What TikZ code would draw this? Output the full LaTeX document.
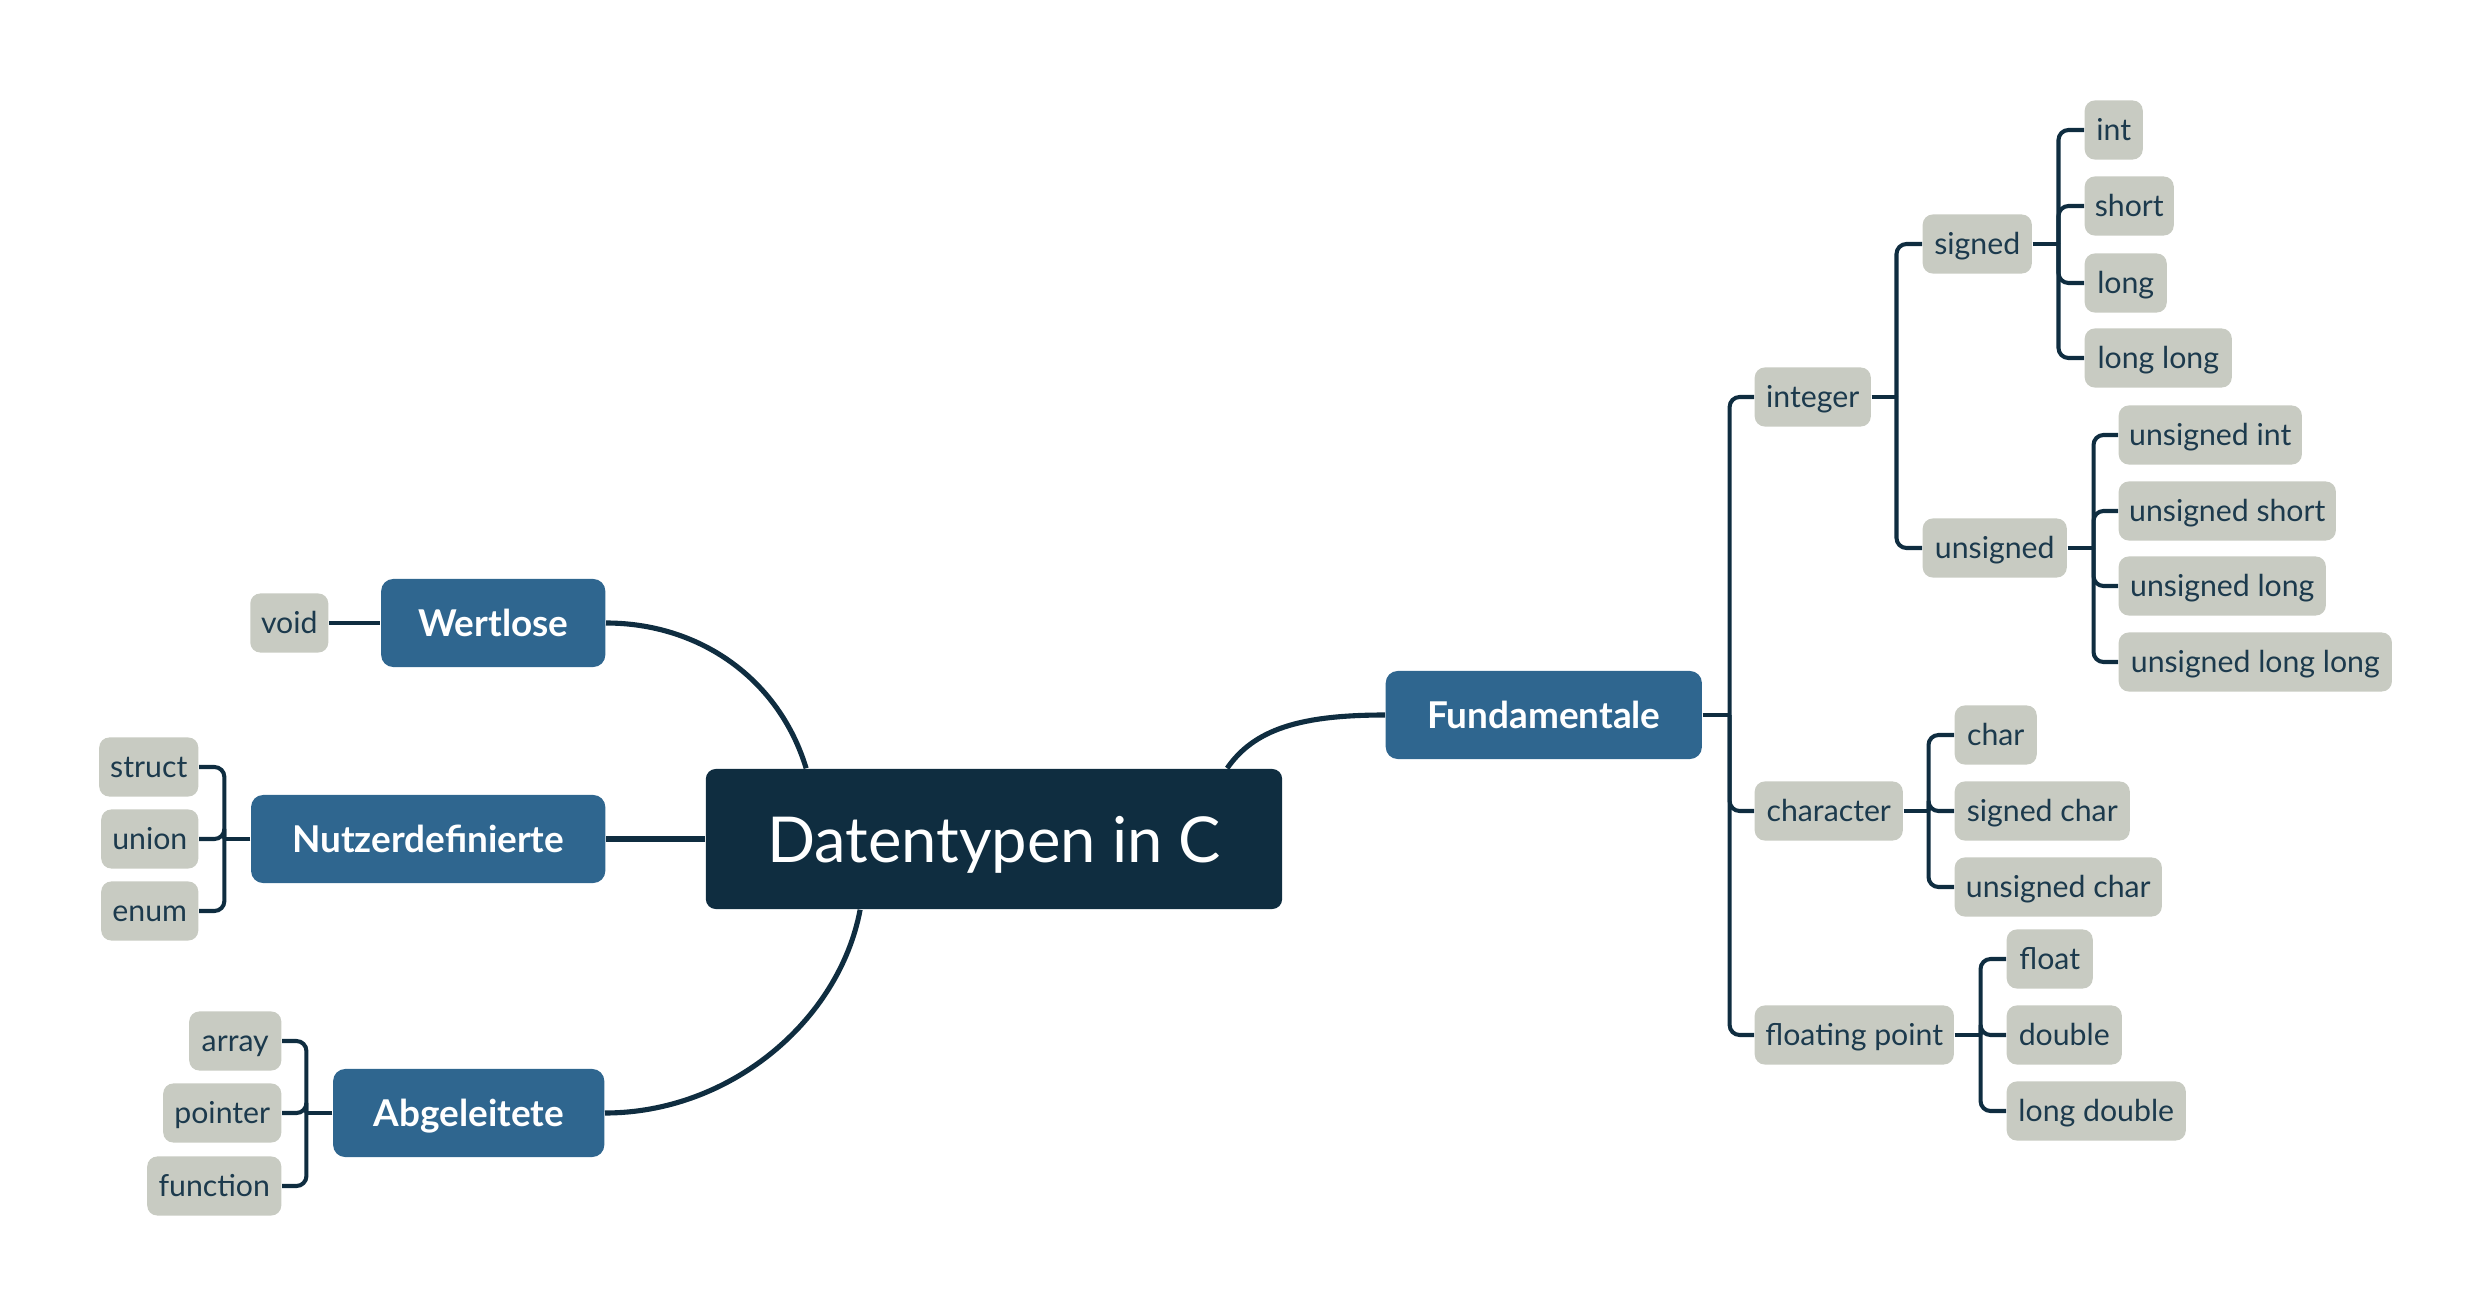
\documentclass[tikz,border=0pt]{standalone}
\usepackage{fontspec}
\setmainfont{Lato}
\usetikzlibrary{calc}
\definecolor{navy}{HTML}{0F2D40}
\definecolor{midblue}{HTML}{2F668F}
\definecolor{leafgray}{HTML}{C8CBC2}
\definecolor{leaftext}{HTML}{1C3A4D}
\definecolor{linec}{HTML}{0F2D40}
\tikzset{
  leaf/.style={fill=leafgray, text=leaftext, rounded corners=0.1cm, minimum height=0.59cm,
    inner xsep=0pt, inner ysep=0pt, text height=0.218cm, text depth=0pt,
    font=\fontsize{8.6}{10}\selectfont},
  mid/.style={fill=midblue, text=white, rounded corners=0.12cm, minimum height=0.88cm,
    inner xsep=0pt, inner ysep=0pt, text height=0.27cm, text depth=0pt,
    font=\fontsize{10.5}{12}\selectfont\bfseries},
  root/.style={fill=navy, text=white, rounded corners=0.1cm, minimum height=1.4cm,
    minimum width=5.76cm, inner sep=0pt, text height=0.46cm, text depth=0pt,
    font=\fontsize{18}{20}\selectfont},
  link/.style={draw=linec, line width=1.45pt},
  branch/.style={draw=linec, line width=1.15pt, rounded corners=0.1cm},
}
\begin{document}
\begin{tikzpicture}[x=0.01cm, y=-0.01cm]
\useasboundingbox (0,0) rectangle (2492,1316);

% root and main branches
\node[root] (root) at (994,839) {Datentypen in C};
\node[mid, minimum width=3.16cm, anchor=west] (fund) at (1385,715) {Fundamentale};
\node[mid, minimum width=2.24cm, anchor=east] (wert) at (606,623) {Wertlose};
\node[mid, minimum width=3.54cm, anchor=east] (nutz) at (606,839) {Nutzerdefinierte};
\node[mid, minimum width=2.71cm, anchor=east] (abg) at (605,1113) {Abgeleitete};

% left leaves
\node[leaf, minimum width=0.78cm, anchor=east] (void) at (329,623) {void};
\node[leaf, minimum width=0.99cm, anchor=east] (struct) at (199,767) {struct};
\node[leaf, minimum width=0.97cm, anchor=east] (union) at (199,839) {union};
\node[leaf, minimum width=0.97cm, anchor=east] (enum) at (199,911) {enum};
\node[leaf, minimum width=0.92cm, anchor=east] (array) at (282,1041) {array};
\node[leaf, minimum width=1.18cm, anchor=east] (pointer) at (282,1113) {pointer};
\node[leaf, minimum width=1.34cm, anchor=east] (function) at (282,1186) {function};

% right side
\node[leaf, minimum width=1.16cm, anchor=west] (integer) at (1754,397) {integer};
\node[leaf, minimum width=1.48cm, anchor=west] (character) at (1754,811) {character};
\node[leaf, minimum width=1.99cm, anchor=west] (floating) at (1754,1035) {floating point};

\node[leaf, minimum width=1.09cm, anchor=west] (signed) at (1922,244) {signed};
\node[leaf, minimum width=1.44cm, anchor=west] (unsigned) at (1922,548) {unsigned};

\node[leaf, minimum width=0.58cm, anchor=west] (int) at (2084,130) {int};
\node[leaf, minimum width=0.89cm, anchor=west] (short) at (2084,206) {short};
\node[leaf, minimum width=0.82cm, anchor=west] (long) at (2084,283) {long};
\node[leaf, minimum width=1.47cm, anchor=west] (longlong) at (2084,358) {long long};

\node[leaf, minimum width=1.83cm, anchor=west] (uint) at (2118,435) {unsigned int};
\node[leaf, minimum width=2.17cm, anchor=west] (ushort) at (2118,511) {unsigned short};
\node[leaf, minimum width=2.07cm, anchor=west] (ulong) at (2118,586) {unsigned long};
\node[leaf, minimum width=2.73cm, anchor=west] (ulonglong) at (2118,662) {unsigned long long};

\node[leaf, minimum width=0.82cm, anchor=west] (char) at (1954,735) {char};
\node[leaf, minimum width=1.75cm, anchor=west] (schar) at (1954,811) {signed char};
\node[leaf, minimum width=2.07cm, anchor=west] (uchar) at (1954,887) {unsigned char};

\node[leaf, minimum width=0.86cm, anchor=west] (float) at (2006,959) {float};
\node[leaf, minimum width=1.15cm, anchor=west] (double) at (2006,1035) {double};
\node[leaf, minimum width=1.79cm, anchor=west] (ldouble) at (2006,1111) {long double};

% main curves
\coordinate (rtopL) at ($(root.north west)+(101,0)$);
\coordinate (rtopR) at ($(root.north west)+(522,0)$);
\coordinate (rbot) at ($(root.south west)+(155,0)$);
\draw[link] (wert.east) .. controls +(94,0) and +(-27,-89) .. (rtopL);
\draw[link] (abg.east) .. controls +(125,0) and +(-21,111) .. (rbot);
\draw[link] (rtopR) .. controls +(27,-39) and +(-85,0) .. (fund.west);
\draw[link] (nutz.east) -- (root.west);
\draw[branch] (void.east) -- (wert.west);

% left brackets
\draw[branch] (nutz.west) -- ++(-26,0) coordinate (nb);
\foreach \c in {struct,union,enum} \draw[branch] (nb) |- (\c.east);
\draw[branch] (abg.west) -- ++(-26,0) coordinate (ab);
\foreach \c in {array,pointer,function} \draw[branch] (ab) |- (\c.east);

% right brackets
\draw[branch] (fund.east) -- ++(27,0) coordinate (fb);
\foreach \c in {integer,character,floating} \draw[branch] (fb) |- (\c.west);
\draw[branch] (integer.east) -- ++(25,0) coordinate (ib);
\foreach \c in {signed,unsigned} \draw[branch] (ib) |- (\c.west);
\draw[branch] (signed.east) -- ++(26,0) coordinate (sb);
\foreach \c in {int,short,long,longlong} \draw[branch] (sb) |- (\c.west);
\draw[branch] (unsigned.east) -- ++(26,0) coordinate (ub);
\foreach \c in {uint,ushort,ulong,ulonglong} \draw[branch] (ub) |- (\c.west);
\draw[branch] (character.east) -- ++(25,0) coordinate (cb);
\foreach \c in {char,schar,uchar} \draw[branch] (cb) |- (\c.west);
\draw[branch] (floating.east) -- ++(26,0) coordinate (flb);
\foreach \c in {float,double,ldouble} \draw[branch] (flb) |- (\c.west);
\end{tikzpicture}
\end{document}
